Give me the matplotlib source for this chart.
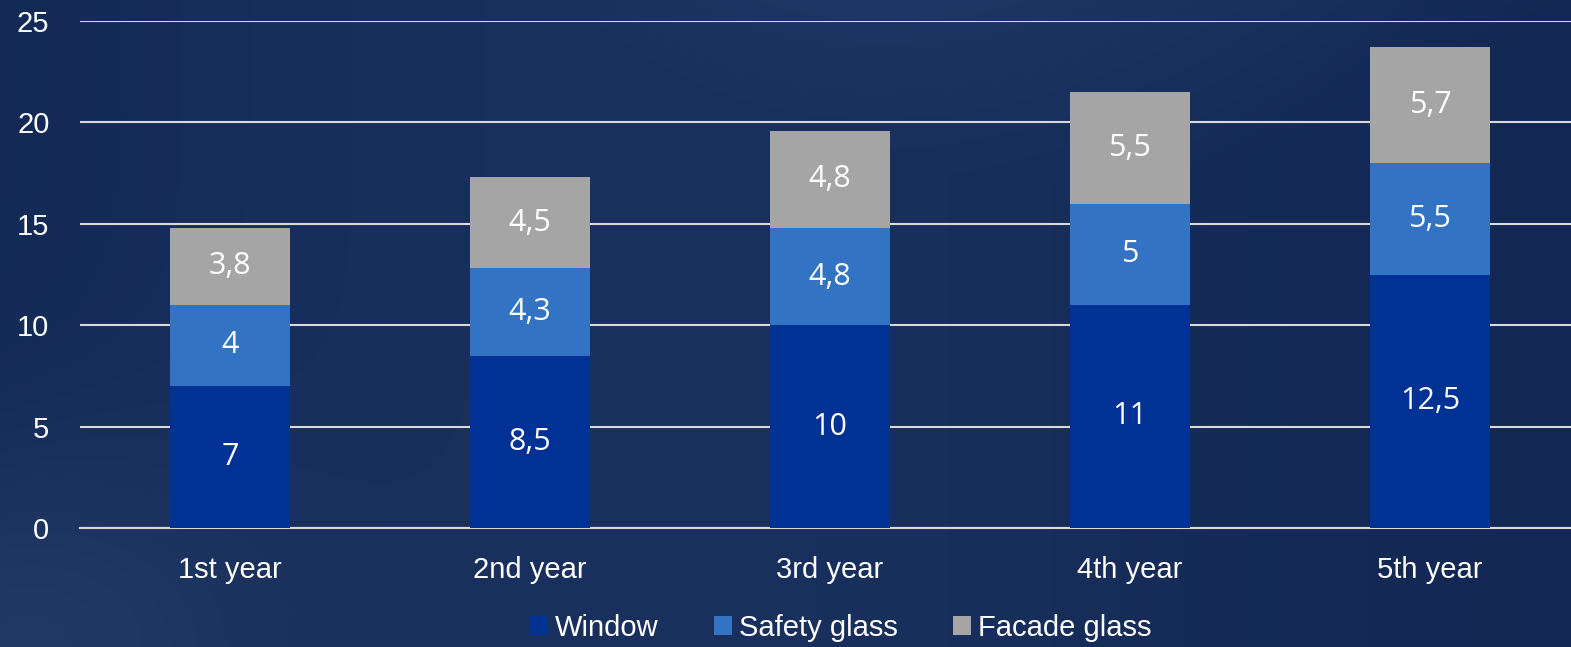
import numpy as np
import matplotlib
matplotlib.use('Agg')
import matplotlib.pyplot as plt

years = ['1st year', '2nd year', '3rd year', '4th year', '5th year']
window = [7, 8.5, 10, 11, 12.5]
safety = [4, 4.3, 4.8, 5, 5.5]
facade = [3.8, 4.5, 4.8, 5.5, 5.7]
series_names = ['Window', 'Safety glass', 'Facade glass']
colors = ['#003296', '#3373c4', '#a5a5a5']

W, H = 1571, 647
fig = plt.figure(figsize=(W/100, H/100), dpi=100)

# background: dark navy with a soft lighter swoosh
bg = fig.add_axes([0, 0, 1, 1])
bg.set_xlim(0, W); bg.set_ylim(H, 0)
bg.axis('off')
yy, xx = np.mgrid[0:H, 0:W]
base = np.zeros((H, W, 3))
mid = np.exp(-((xx-650)**2)/(2*450**2))
base[..., 0] = 0.07 + 0.03*mid
base[..., 1] = 0.15 + 0.04*mid
base[..., 2] = 0.32 + 0.05*mid
r = np.hypot(xx-1050, yy+620)
glow = np.clip((800 - r)/300, 0, 1)
base[..., 0] += 0.04*glow
base[..., 1] += 0.05*glow
base[..., 2] += 0.06*glow
ll = np.exp(-(((xx-0)/260)**2 + ((yy-647)/200)**2))
base[..., 0] += 0.05*ll
base[..., 1] += 0.06*ll
base[..., 2] += 0.06*ll
bg.imshow(np.clip(base, 0, 1), extent=(0, W, H, 0), aspect='auto')

ax = fig.add_axes([80/W, (H-528)/H, (W-80)/W, 507/H])
ax.patch.set_alpha(0)
x = np.arange(len(years))
bw = 0.4
bottom = np.zeros(len(years))
for vals, name, c in zip([window, safety, facade], series_names, colors):
    ax.bar(x, vals, bw, bottom=bottom, color=c, label=name, zorder=3)
    for xi, b, v in zip(x, bottom, vals):
        ax.text(xi, b + v/2, ('%g' % v).replace('.', ','), ha='center', va='center',
                color='white', fontsize=22, family='Open Sans', zorder=4)
    bottom += np.array(vals)

ax.set_xlim(-0.5, 4.47)
ax.set_ylim(0, 25)
ax.set_yticks(range(0, 26, 5))
ax.yaxis.grid(True, color='#d9d9d9', lw=1.5, zorder=1)
ax.set_axisbelow(True)
for s in ['top', 'right', 'left']:
    ax.spines[s].set_visible(False)
ax.spines['bottom'].set_color('#d9d9d9')
ax.spines['bottom'].set_linewidth(1.5)
ax.tick_params(axis='both', length=0, colors='white', labelsize=21)
ax.tick_params(axis='y', pad=22)
ax.tick_params(axis='x', pad=20)
ax.set_xticks(x)
ax.set_xticklabels(years, family='Liberation Sans')
for lab in ax.get_yticklabels():
    lab.set_family('Liberation Sans')

leg = fig.legend(loc='center', bbox_to_anchor=(841/W, 1-628/H), ncol=3, frameon=False,
                 prop={'family': 'Liberation Sans', 'size': 21}, handlelength=0.6,
                 handleheight=0.6, handletextpad=0.25, columnspacing=1.9)
for txt in leg.get_texts():
    txt.set_color('white')

fig.savefig('out.png', dpi=100)
